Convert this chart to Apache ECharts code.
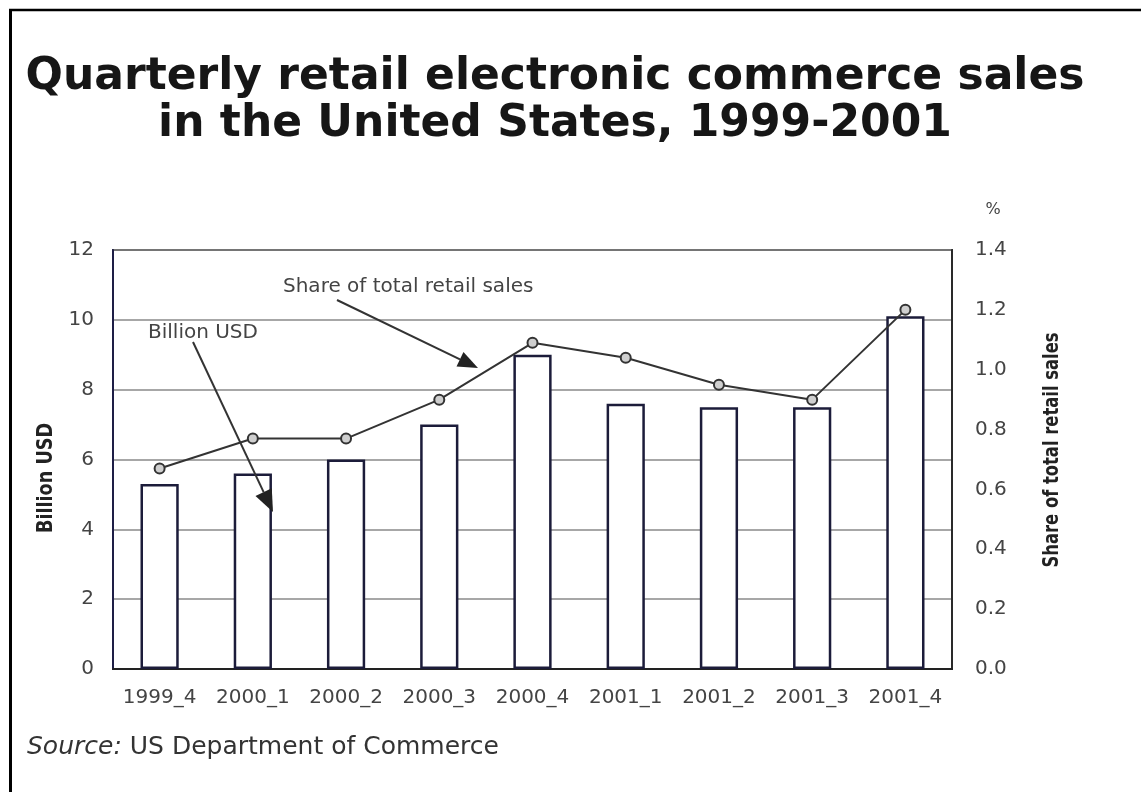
<!DOCTYPE html>
<html>
<head>
<meta charset="utf-8">
<style>
  html, body { margin: 0; padding: 0; background: #fff; }
  #chart { width: 1141px; height: 792px; }
</style>
<script src="https://cdn.jsdelivr.net/npm/echarts@6/dist/echarts.min.js"></script>
</head>
<body>
<div id="chart"></div>
<script>
// Quarters on the horizontal axis
const quarters = ['1999_4', '2000_1', '2000_2', '2000_3', '2000_4', '2001_1', '2001_2', '2001_3', '2001_4'];
// E-commerce sales, billion USD (bars, left axis)
const salesBillionUSD = [5.3, 5.6, 6.0, 7.0, 9.0, 7.6, 7.5, 7.5, 10.1];
// Share of total retail sales, % (line, right axis)
const sharePercent = [0.67, 0.77, 0.77, 0.90, 1.09, 1.04, 0.95, 0.90, 1.20];

const titleText = 'Quarterly retail electronic commerce sales\nin the United States, 1999-2001';
const leftAxisName = 'Billion USD';
const rightAxisName = 'Share of total retail sales';

const chart = echarts.init(document.getElementById('chart'), null, { renderer: 'canvas' });

const baseFont = "'DejaVu Sans', 'Liberation Sans', sans-serif";

// Arrow = shaft + filled triangular head, built from its two end points
function arrow(x1, y1, x2, y2, headLen, headHalf) {
  const dx = x2 - x1, dy = y2 - y1;
  const len = Math.sqrt(dx * dx + dy * dy);
  const ux = dx / len, uy = dy / len;
  const bx = x2 - ux * headLen, by = y2 - uy * headLen;
  const px = -uy * headHalf, py = ux * headHalf;
  return [
    { type: 'line', shape: { x1: x1, y1: y1, x2: bx, y2: by },
      style: { stroke: '#333', lineWidth: 2 }, z: 20 },
    { type: 'polygon', shape: { points: [[x2, y2], [bx + px, by + py], [bx - px, by - py]] },
      style: { fill: '#222' }, z: 20 }
  ];
}

// Condensed bold axis title, written bottom-to-top
function axisTitle(text, cx, cy, squeeze) {
  return {
    type: 'text', x: cx, y: cy, rotation: Math.PI / 2, scaleX: squeeze, z: 30,
    style: { text: text, textAlign: 'center', textVerticalAlign: 'middle',
             font: "bold 21px 'DejaVu Sans', sans-serif", fill: '#222' }
  };
}

const option = {
  animation: false,
  backgroundColor: '#fff',
  grid: {
    left: 113, top: 250, right: 189, bottom: 123,
    show: true, borderColor: '#3a3a3a', borderWidth: 2
  },
  xAxis: {
    type: 'category',
    data: quarters,
    axisTick: { show: false },
    axisLine: { lineStyle: { color: '#222', width: 2 } },
    axisLabel: { interval: 0, color: '#444', fontFamily: baseFont, fontSize: 20, margin: 19 }
  },
  yAxis: [
    {
      type: 'value', min: 0, max: 12, interval: 2,
      axisLine: { show: true, lineStyle: { color: '#1e1e46', width: 2 } },
      axisTick: { show: false },
      axisLabel: { color: '#444', fontFamily: baseFont, fontSize: 20, margin: 19 },
      splitLine: { lineStyle: { color: '#8a8a8a', width: 1.5 } }
    },
    {
      type: 'value', min: 0, max: 1.4, interval: 0.2,
      axisLine: { show: true, lineStyle: { color: '#2a2a2a', width: 2 } },
      axisTick: { show: false },
      axisLabel: {
        color: '#444', fontFamily: baseFont, fontSize: 20, margin: 23,
        formatter: v => v.toFixed(1)
      },
      splitLine: { show: false }
    }
  ],
  series: [
    {
      type: 'bar',
      data: salesBillionUSD,
      yAxisIndex: 0,
      barWidth: '41%',
      itemStyle: { color: '#fff', borderColor: '#1c1c3a', borderWidth: 2.5 },
      z: 3
    },
    {
      type: 'line',
      data: sharePercent,
      yAxisIndex: 1,
      symbol: 'circle',
      symbolSize: 10,
      lineStyle: { color: '#333', width: 2 },
      itemStyle: { color: '#cfcfcf', borderColor: '#333', borderWidth: 2 },
      z: 5
    }
  ],
  graphic: [
    // frame edges
    { type: 'line', shape: { x1: 10.5, y1: 10, x2: 10.5, y2: 792 }, style: { stroke: '#000', lineWidth: 3 } },
    { type: 'line', shape: { x1: 9, y1: 10, x2: 1141, y2: 10 }, style: { stroke: '#000', lineWidth: 2.5 } },
    // title
    { type: 'text', x: 555, y: 54, z: 30,
      style: { text: titleText, textAlign: 'center', textVerticalAlign: 'top',
               font: "bold 44px 'DejaVu Sans', sans-serif", lineHeight: 47, fill: '#161616' } },
    // axis titles
    axisTitle(leftAxisName, 47, 478, 0.84),
    axisTitle(rightAxisName, 1053, 450, 0.78),
    // percent unit above the right axis
    { type: 'text', x: 993, y: 210, z: 30,
      style: { text: '%', textAlign: 'center', textVerticalAlign: 'middle',
               font: "16px 'DejaVu Sans', sans-serif", fill: '#444' } },
    // series call-outs
    { type: 'text', x: 283, y: 287, z: 30,
      style: { text: 'Share of total retail sales', textVerticalAlign: 'middle',
               font: "20px 'DejaVu Sans', sans-serif", fill: '#444' } },
    { type: 'text', x: 148, y: 333, z: 30,
      style: { text: 'Billion USD', textVerticalAlign: 'middle',
               font: "20px 'DejaVu Sans', sans-serif", fill: '#444' } },
    ...arrow(337, 300, 478, 368, 20, 8),
    ...arrow(193, 342, 273, 512, 22, 9),
    // source line
    { type: 'text', x: 27, y: 747, z: 30,
      style: {
        text: '{i|Source:} US Department of Commerce',
        textVerticalAlign: 'middle',
        font: "25px 'DejaVu Sans', sans-serif", fill: '#333',
        rich: { i: { fontStyle: 'italic', fontFamily: "'DejaVu Sans', sans-serif", fontSize: 25, fill: '#333' } }
      } }
  ]
};

chart.setOption(option);
</script>
</body>
</html>
